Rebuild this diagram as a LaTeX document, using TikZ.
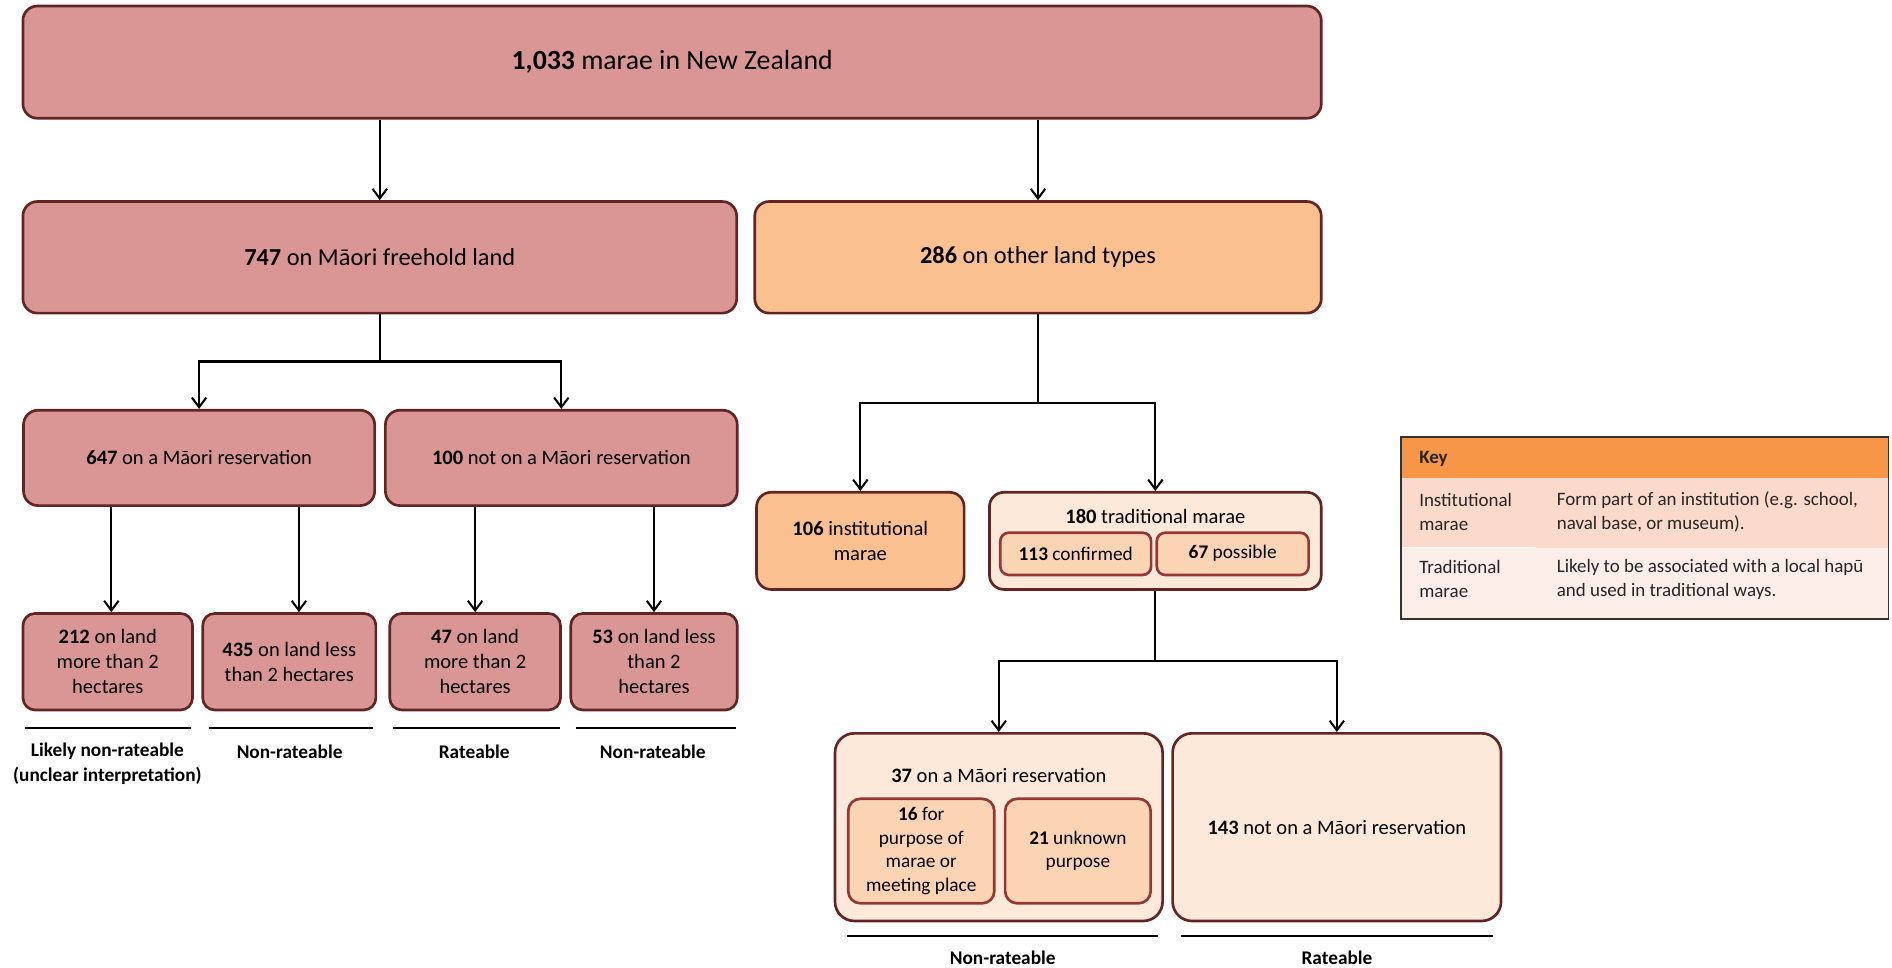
\documentclass[tikz,border=0pt]{standalone}
\usepackage{fontspec}
\setmainfont{Carlito}
\usetikzlibrary{arrows.meta}

\definecolor{rosefill}{HTML}{D99694}
\definecolor{peachfill}{HTML}{FAC090}
\definecolor{palefill}{HTML}{FDE9D9}
\definecolor{innerfill}{HTML}{FBD4B4}
\definecolor{darkedge}{HTML}{632523}
\definecolor{inneredge}{HTML}{953735}
\definecolor{keyhead}{HTML}{F79646}
\definecolor{keyrowa}{HTML}{FBDACB}
\definecolor{keyrowb}{HTML}{FDEEEA}

\begin{document}
\begin{tikzpicture}[x=1pt, y=-1pt, >={Straight Barb[length=8pt,width=12pt]}, font=\fontsize{17}{20.7}\selectfont]
    \tikzstyle{box}=[rectangle, rounded corners=12pt, draw=darkedge, line width=2.2pt, inner sep=0pt, align=center]
    \tikzstyle{rosebox}=[box, fill=rosefill]
    \tikzstyle{peachbox}=[box, fill=peachfill]
    \tikzstyle{palebox}=[box, fill=palefill]
    \tikzstyle{subbox}=[box, rounded corners=7pt, draw=inneredge, fill=innerfill, font=\fontsize{16}{19.5}\selectfont]
    \tikzstyle{arrow}=[->, line width=1.7pt]
    \tikzstyle{rule}=[line width=1.7pt]
    \tikzstyle{verdict}=[align=center, font=\fontsize{16}{20}\selectfont\bfseries]
    \tikzstyle{keytext}=[anchor=west, align=left, inner sep=0pt, text=black!85, font=\fontsize{15.7}{19.9}\selectfont]

    \useasboundingbox (0,0) rectangle (1568,802);

    % top levels
    \node[rosebox, minimum width=1076pt, minimum height=93pt, font=\fontsize{23}{27.5}\selectfont] (top) at (557,51.5) {\textbf{1,033} marae in New Zealand};
    \node[rosebox, minimum width=591.5pt, minimum height=92.5pt, font=\fontsize{20.2}{24}\selectfont] (fh) at (314.75,213.25) {\textbf{747} on Māori freehold land};
    \node[peachbox, minimum width=469.5pt, minimum height=92.5pt, font=\fontsize{20.2}{24}\selectfont] (ot) at (860.25,213.25) {\textbf{286} on other land types};

    % Maori freehold land
    \node[rosebox, minimum width=291pt, minimum height=79pt] (res) at (165,379.5) {\textbf{647} on a Māori reservation};
    \node[rosebox, minimum width=291.6pt, minimum height=79pt] (nres) at (465.2,379.5) {\textbf{100} not on a Māori reservation};

    \node[rosebox, rounded corners=10pt, minimum width=140.5pt, minimum height=80pt] (resbig) at (89.3,548.4) {\textbf{212} on land\\more than 2\\hectares};
    \node[rosebox, rounded corners=10pt, minimum width=143.5pt, minimum height=80pt] (ressmall) at (239.75,548.4) {\textbf{435} on land less\\than 2 hectares};
    \node[rosebox, rounded corners=10pt, minimum width=141.5pt, minimum height=80pt] (nresbig) at (393.75,548.4) {\textbf{47} on land\\more than 2\\hectares};
    \node[rosebox, rounded corners=10pt, minimum width=138pt, minimum height=80pt] (nressmall) at (542,548.4) {\textbf{53} on land less\\than 2\\hectares};

    % other land types
    \node[peachbox, minimum width=172pt, minimum height=80.5pt] (ins) at (713,448.25) {\textbf{106} institutional\\marae};
    \node[palebox, minimum width=275pt, minimum height=80.5pt] (trad) at (957.5,448.25) {};
    \node (tradtitle) at (957.5,428) {\textbf{180} traditional marae};
    \node[subbox, minimum width=125pt, minimum height=35pt] (conf) at (891.5,459) {\textbf{113} confirmed};
    \node[subbox, minimum width=125.8pt, minimum height=35pt] (poss) at (1021.6,459) {\textbf{67} possible};

    \node[palebox, rounded corners=16pt, minimum width=271.5pt, minimum height=155.5pt] (mres) at (827.75,685.5) {};
    \node (mrestitle) at (827.75,643) {\textbf{37} on a Māori reservation};
    \node[subbox, rounded corners=10pt, minimum width=121pt, minimum height=86.6pt] (purp) at (763.5,705.3) {\textbf{16} for\\purpose of\\marae or\\meeting place};
    \node[subbox, rounded corners=10pt, minimum width=120.6pt, minimum height=86.6pt] (unk) at (893.3,705.3) {\textbf{21} unknown\\purpose};
    \node[palebox, rounded corners=16pt, minimum width=272.2pt, minimum height=155.5pt] (mnres) at (1107.9,685.5) {\textbf{143} not on a Māori reservation};

    % connectors
    \draw[arrow] (top.south -| fh.north) -- (fh.north);
    \draw[arrow] (top.south -| ot.north) -- (ot.north);
    \draw[arrow] (fh.south) -- ++(0,39) -| (res.north);
    \draw[arrow] (fh.south) -- ++(0,39) -| (nres.north);
    \draw[arrow] ([xshift=3pt]resbig.north |- res.south) -- ([xshift=3pt]resbig.north);
    \draw[arrow] ([xshift=8pt]ressmall.north |- res.south) -- ([xshift=8pt]ressmall.north);
    \draw[arrow] (nres.south -| nresbig.north) -- (nresbig.north);
    \draw[arrow] (nres.south -| nressmall.north) -- (nressmall.north);
    \draw[arrow] (ot.south) -- ++(0,73) -| (ins.north);
    \draw[arrow] (ot.south) -- ++(0,73) -| (trad.north);
    \draw[arrow] (trad.south) -- ++(0,58.5) -| (mres.north);
    \draw[arrow] (trad.south) -- ++(0,58.5) -| (mnres.north);

    % rateability
    \draw[rule] (21,603) -- (158,603);
    \draw[rule] (173,603) -- (309,603);
    \draw[rule] (326,603) -- (464,603);
    \draw[rule] (477,603) -- (610,603);
    \draw[rule] (702,775.5) -- (960,775.5);
    \draw[rule] (979,775.5) -- (1237,775.5);
    \node[verdict] (likely) at (89,633) {Likely non-rateable\\(unclear interpretation)};
    \node[verdict] (nonrate1) at (240,623) {Non-rateable};
    \node[verdict] (rate1) at (393,623) {Rateable};
    \node[verdict] (nonrate2) at (541,623) {Non-rateable};
    \node[verdict] (nonrate3) at (831,794) {Non-rateable};
    \node[verdict] (rate2) at (1108,794) {Rateable};

    % key
    \fill[keyhead] (1161,362) rectangle (1565,396.5);
    \fill[keyrowa] (1161,396.5) rectangle (1565,454);
    \fill[keyrowb] (1161,454) rectangle (1565,513);
    \draw[white, line width=1pt] (1161,454) -- (1273,454);
    \draw[line width=1.3pt, black!80] (1161,362) rectangle (1565,513);
    \node[keytext, font=\fontsize{15.7}{19.9}\selectfont\bfseries] (keytitle) at (1176,380) {Key};
    \node[keytext] (insname) at (1176,424.5) {Institutional\\marae};
    \node[keytext] (insdesc) at (1290,424.5) {Form part of an institution (e.g. school,\\naval base, or museum).};
    \node[keytext] (tradname) at (1176,480) {Traditional\\marae};
    \node[keytext] (traddesc) at (1290,480) {Likely to be associated with a local hapū\\and used in traditional ways.};
\end{tikzpicture}
\end{document}
